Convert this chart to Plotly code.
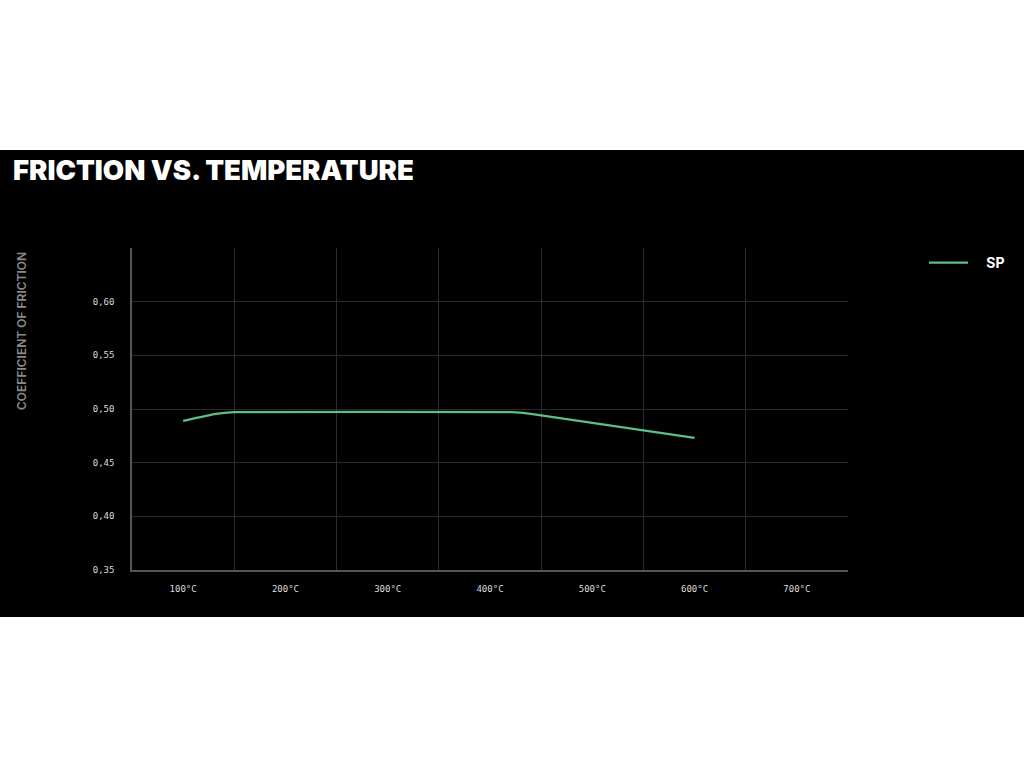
import plotly.graph_objects as go

# ---- data ----
temperature_c = [100, 132, 150, 420, 440, 600]
friction_sp = [0.489, 0.4955, 0.497, 0.497, 0.4955, 0.473]
series_name = "SP"

x_tick_vals = [100, 200, 300, 400, 500, 600, 700]
x_tick_text = ["100°C", "200°C", "300°C", "400°C", "500°C", "600°C", "700°C"]
x_grid_vals = [150, 250, 350, 450, 550, 650]
y_tick_vals = [0.35, 0.40, 0.45, 0.50, 0.55, 0.60]
y_tick_text = ["0,35", "0,40", "0,45", "0,50", "0,55", "0,60"]

title_text = "FRICTION VS. TEMPERATURE"
y_title_text = "COEFFICIENT OF FRICTION"

W, H = 1024, 768
L, R, T, B = 132, 176, 248, 198
plot_w = W - L - R
plot_h = H - T - B

def px_to_paper_x(px):
    return (px - L) / plot_w

def px_to_paper_y(py):
    return (H - B - py) / plot_h

fig = go.Figure()
fig.add_trace(go.Scatter(
    x=temperature_c, y=friction_sp, name="\u00a0\u00a0\u00a0\u00a0" + series_name, mode="lines",
    line=dict(color="#5cbf8b", width=2.3, shape="spline", smoothing=0.3),
))

grid_col = "#2a2a33"
axis_col = "#55555c"
mono = "DejaVu Sans Mono"

fig.update_layout(
    width=W, height=H,
    margin=dict(l=L, r=R, t=T, b=B, pad=0),
    paper_bgcolor="white",
    plot_bgcolor="black",
    showlegend=True,
    legend=dict(
        x=px_to_paper_x(924), y=px_to_paper_y(247), xanchor="left", yanchor="top",
        bgcolor="rgba(0,0,0,0)", font=dict(color="white", size=14, family="Inter", weight=700),
        itemwidth=39,
    ),
    xaxis=dict(
        range=[50, 750], tickvals=x_tick_vals, ticktext=x_tick_text,
        showgrid=False, zeroline=False,
        showline=True, linecolor=axis_col, linewidth=1.5,
        ticks="outside", ticklen=9, tickcolor="rgba(0,0,0,0)",
        tickfont=dict(family=mono, size=9, color="#dcdcdc"),
        minor=dict(tickvals=x_grid_vals, showgrid=True, gridcolor=grid_col, gridwidth=1, ticks=""),
        fixedrange=True,
    ),
    yaxis=dict(
        range=[0.35, 0.65], tickvals=y_tick_vals, ticktext=y_tick_text,
        showgrid=True, gridcolor=grid_col, gridwidth=1, zeroline=False,
        showline=True, linecolor=axis_col, linewidth=1.5,
        ticks="outside", ticklen=14, tickcolor="rgba(0,0,0,0)",
        tickfont=dict(family=mono, size=9, color="#dcdcdc"),
        fixedrange=True,
    ),
    shapes=[dict(
        type="rect", xref="paper", yref="paper", layer="below",
        x0=px_to_paper_x(0), x1=px_to_paper_x(W),
        y0=px_to_paper_y(617), y1=px_to_paper_y(150),
        fillcolor="black", line=dict(width=0),
    )],
    annotations=[
        dict(text=title_text, xref="paper", yref="paper",
             x=px_to_paper_x(11), y=px_to_paper_y(170), xanchor="left", yanchor="middle",
             showarrow=False, font=dict(family="Inter", size=27.5, color="white", weight=900)),
        dict(text=y_title_text, xref="paper", yref="paper", textangle=-90,
             x=px_to_paper_x(21), y=px_to_paper_y(331), xanchor="center", yanchor="middle",
             showarrow=False, font=dict(family="Inter", size=12, color="#8a8a8e", weight=600)),
    ],
)

fig.write_html("out.html", post_script="document.body.style.margin='0';",
               config={"displayModeBar": False})
